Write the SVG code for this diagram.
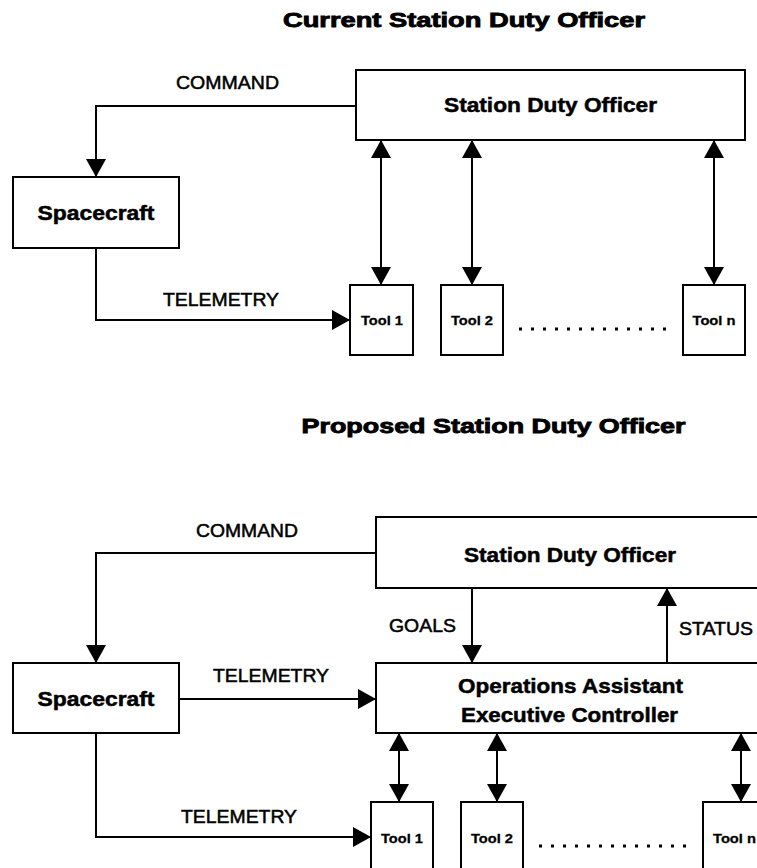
<svg xmlns="http://www.w3.org/2000/svg" width="757" height="868" viewBox="0 0 757 868">
  <defs>
    <marker id="arrow" markerUnits="userSpaceOnUse" markerWidth="18" markerHeight="20" viewBox="0 0 18 20" refX="18" refY="10" orient="auto-start-reverse">
      <path d="M0,0 L18,10 L0,20 Z" fill="#000"/>
    </marker>
    <style>
      .box { fill: #fff; stroke: #000; stroke-width: 2; }
      .wire { fill: none; stroke: #000; stroke-width: 2; }
      .one { marker-end: url(#arrow); }
      .both { marker-start: url(#arrow); marker-end: url(#arrow); }
      .dots { fill: none; stroke: #000; stroke-width: 3; stroke-dasharray: 3 9; }
      text { font-family: "Liberation Sans", Arial, sans-serif; fill: #000; }
      .title { font-size: 21px; font-weight: bold; stroke: #000; stroke-width: 0.9; text-anchor: middle; }
      .name { font-size: 20.5px; font-weight: bold; stroke: #000; stroke-width: 0.5; text-anchor: middle; }
      .label { font-size: 18px; stroke: #000; stroke-width: 0.5; }
      .tool { font-size: 13.5px; font-weight: bold; stroke: #000; stroke-width: 0.3; text-anchor: middle; }
    </style>
  </defs>

  <rect width="757" height="868" fill="#fff"/>

  <!-- Current arrangement -->
  <text class="title" x="464" y="27" textLength="362" lengthAdjust="spacingAndGlyphs">Current Station Duty Officer</text>

  <g id="connectors-current">
    <path class="wire one" d="M356,106 H96 V177"/>
    <path class="wire one" d="M96,248 V320 H350"/>
    <path class="wire both" d="M381,140 V285"/>
    <path class="wire both" d="M472,140 V285"/>
    <path class="wire both" d="M714,140 V285"/>
    <path class="dots" d="M519,329 H668"/>
    <text class="label" x="176" y="89" textLength="103" lengthAdjust="spacingAndGlyphs">COMMAND</text>
    <text class="label" x="163" y="306" textLength="116" lengthAdjust="spacingAndGlyphs">TELEMETRY</text>
  </g>

  <g id="sdo-current">
    <rect class="box" x="356" y="70" width="389" height="70"/>
    <text class="name" x="550.5" y="112" textLength="213" lengthAdjust="spacingAndGlyphs">Station Duty Officer</text>
  </g>
  <g id="spacecraft-current">
    <rect class="box" x="13" y="177" width="166" height="71"/>
    <text class="name" x="96" y="220" textLength="117" lengthAdjust="spacingAndGlyphs">Spacecraft</text>
  </g>
  <g id="tool1-current">
    <rect class="box" x="350" y="285" width="63" height="70"/>
    <text class="tool" x="382" y="325" textLength="42" lengthAdjust="spacingAndGlyphs">Tool 1</text>
  </g>
  <g id="tool2-current">
    <rect class="box" x="441" y="285" width="62" height="70"/>
    <text class="tool" x="472" y="325" textLength="42" lengthAdjust="spacingAndGlyphs">Tool 2</text>
  </g>
  <g id="tooln-current">
    <rect class="box" x="683" y="285" width="62" height="70"/>
    <text class="tool" x="714" y="325" textLength="43" lengthAdjust="spacingAndGlyphs">Tool n</text>
  </g>

  <!-- Proposed arrangement -->
  <text class="title" x="493.5" y="433" textLength="384" lengthAdjust="spacingAndGlyphs">Proposed Station Duty Officer</text>

  <g id="connectors-proposed">
    <path class="wire one" d="M376,553 H96 V663"/>
    <path class="wire one" d="M179,699 H376"/>
    <path class="wire one" d="M472,588 V663"/>
    <path class="wire one" d="M667,663 V588"/>
    <path class="wire both" d="M399,733 V802"/>
    <path class="wire both" d="M497,733 V802"/>
    <path class="wire both" d="M741,733 V802"/>
    <path class="wire one" d="M96,733 V837 H371"/>
    <path class="dots" d="M539,846 H688"/>
    <text class="label" x="196" y="537" textLength="102" lengthAdjust="spacingAndGlyphs">COMMAND</text>
    <text class="label" x="213" y="682" textLength="116" lengthAdjust="spacingAndGlyphs">TELEMETRY</text>
    <text class="label" x="389" y="632" textLength="67" lengthAdjust="spacingAndGlyphs">GOALS</text>
    <text class="label" x="679" y="635" textLength="74" lengthAdjust="spacingAndGlyphs">STATUS</text>
    <text class="label" x="181" y="823" textLength="116" lengthAdjust="spacingAndGlyphs">TELEMETRY</text>
  </g>

  <g id="sdo-proposed">
    <rect class="box" x="376" y="517" width="420" height="71"/>
    <text class="name" x="570" y="562" textLength="212" lengthAdjust="spacingAndGlyphs">Station Duty Officer</text>
  </g>
  <g id="spacecraft-proposed">
    <rect class="box" x="13" y="663" width="166" height="70"/>
    <text class="name" x="96" y="706" textLength="117" lengthAdjust="spacingAndGlyphs">Spacecraft</text>
  </g>
  <g id="executive-controller">
    <rect class="box" x="376" y="663" width="420" height="70"/>
    <text class="name" x="570.5" y="693" textLength="225" lengthAdjust="spacingAndGlyphs">Operations Assistant</text>
    <text class="name" x="569.5" y="722" textLength="217" lengthAdjust="spacingAndGlyphs">Executive Controller</text>
  </g>
  <g id="tool1-proposed">
    <rect class="box" x="371" y="802" width="62" height="90"/>
    <text class="tool" x="402" y="843" textLength="42" lengthAdjust="spacingAndGlyphs">Tool 1</text>
  </g>
  <g id="tool2-proposed">
    <rect class="box" x="461" y="802" width="62" height="90"/>
    <text class="tool" x="492" y="843" textLength="42" lengthAdjust="spacingAndGlyphs">Tool 2</text>
  </g>
  <g id="tooln-proposed">
    <rect class="box" x="703" y="802" width="62" height="90"/>
    <text class="tool" x="734.5" y="843" textLength="43" lengthAdjust="spacingAndGlyphs">Tool n</text>
  </g>
</svg>
